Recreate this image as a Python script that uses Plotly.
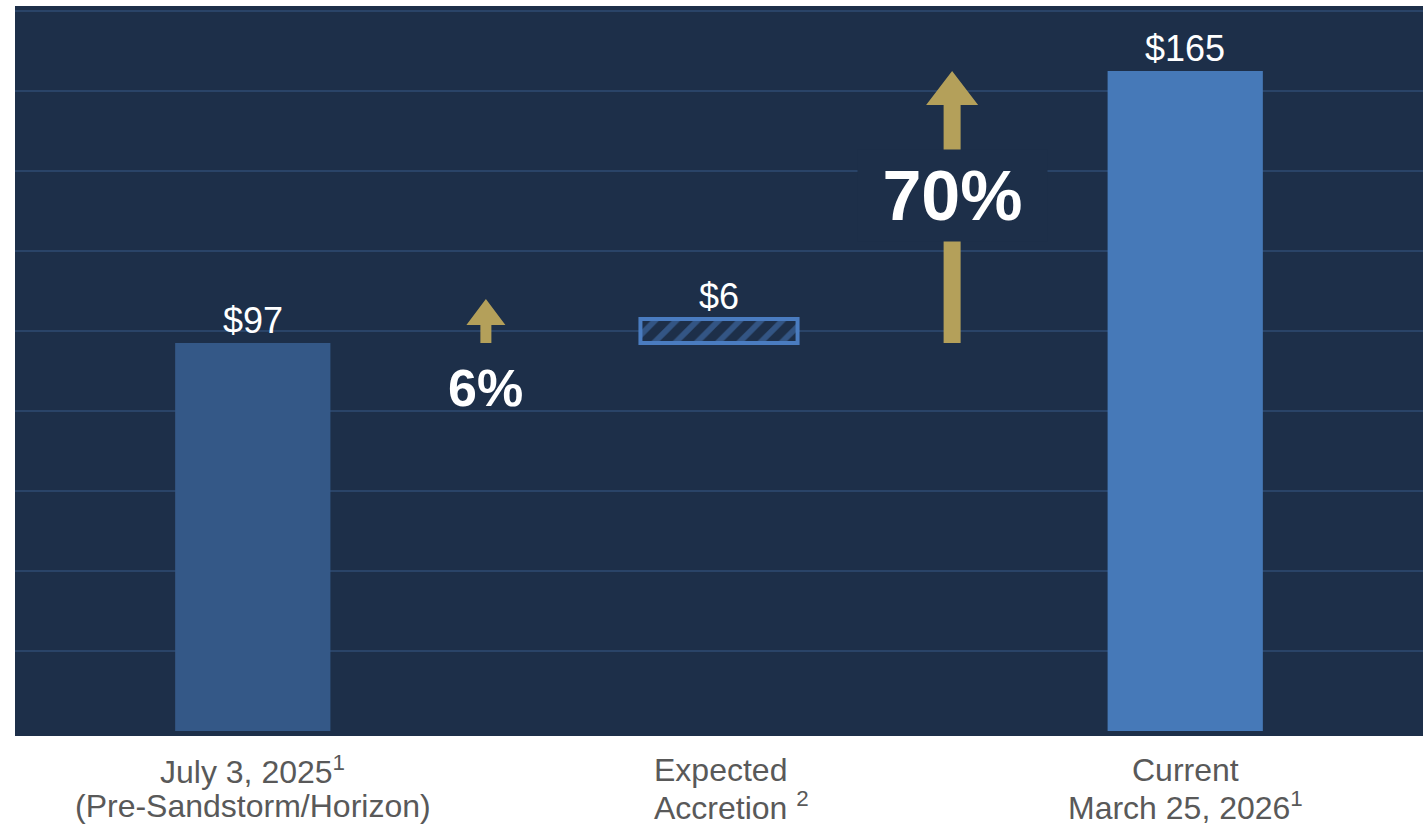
import plotly.graph_objects as go

# --- data -------------------------------------------------------------
categories = ["July 3, 2025", "Expected Accretion", "Current"]
bar_values = [97, 6, 165]          # start, accretion step, current
bar_bases = [0, 97, 0]
value_labels = ["$97", "$6", "$165"]

growth_labels = ["6%", "70%"]
growth_x = [0.5, 1.5]              # between neighbouring categories
arrow_from = [97, 97]
arrow_to = [108, 165]
growth_text_y = [85.7, 133.8]

label_lines = [
    ["July 3, 2025<sup>1</sup>", "(Pre-Sandstorm/Horizon)"],
    ["Expected", "Accretion <sup>2</sup>"],
    ["Current", "March 25, 2026<sup>1</sup>"],
]

# --- styling ----------------------------------------------------------
W, H = 1427, 824
M_L, M_R, M_T, M_B = 15, 4, 6, 88
X_RANGE = [-0.51, 2.51]
Y_RANGE = [-1.25, 181.25]
NAVY = "#1d2f49"
GRID = "#2a4468"
GOLD = "#b4a05a"
BAR_DARK = "#345887"
BAR_LIGHT = "#4679b8"
HATCH_BLUE = "#4a7cc0"
GREY = "#595959"
FONT = "Liberation Sans, Arial, sans-serif"

px_per_x = (W - M_L - M_R) / (X_RANGE[1] - X_RANGE[0])
px_per_y = (H - M_T - M_B) / (Y_RANGE[1] - Y_RANGE[0])

fig = go.Figure()

# solid bars (start and current)
fig.add_trace(go.Bar(
    x=[categories[0], categories[2]],
    y=[bar_values[0], bar_values[2]],
    base=[bar_bases[0], bar_bases[2]],
    width=0.333,
    marker=dict(color=[BAR_DARK, BAR_LIGHT], line=dict(width=0)),
    hoverinfo="skip",
))

# floating hatched accretion step
fig.add_trace(go.Bar(
    x=[categories[1]],
    y=[bar_values[1]],
    base=[bar_bases[1]],
    width=0.337,
    marker=dict(
        color=NAVY,
        line=dict(color=HATCH_BLUE, width=4),
        pattern=dict(shape="/", fgcolor=HATCH_BLUE, bgcolor=NAVY,
                     size=15, solidity=0.38),
    ),
    hoverinfo="skip",
))

annotations = []

# value labels above each bar
for cat, base, val, txt in zip(categories, bar_bases, bar_values, value_labels):
    annotations.append(dict(
        x=cat, y=base + val, xref="x", yref="y",
        text=txt, showarrow=False, yanchor="bottom", yshift=0,
        font=dict(family=FONT, size=36, color="white"),
    ))

# growth arrows as polygons in data space
arrow_dims = [  # shaft px, head width px, head length px
    (11, 39, 26),
    (17, 52, 34),
]
shapes = []
for xc, y0, y1, (sw, hw, hl) in zip(growth_x, arrow_from, arrow_to, arrow_dims):
    s = sw / 2 / px_per_x
    h = hw / 2 / px_per_x
    yh = y1 - hl / px_per_y
    path = (f"M{xc - s},{y0} L{xc + s},{y0} L{xc + s},{yh} L{xc + h},{yh} "
            f"L{xc},{y1} L{xc - h},{yh} L{xc - s},{yh} Z")
    shapes.append(dict(type="path", xref="x", yref="y", path=path,
                       fillcolor=GOLD, line=dict(width=0), layer="above"))

# growth percentages
annotations.append(dict(
    x=growth_x[0], y=growth_text_y[0], xref="x", yref="y",
    text=f"<b>{growth_labels[0]}</b>", showarrow=False, yanchor="middle",
    font=dict(family=FONT, size=52, color="white"),
))
annotations.append(dict(
    x=growth_x[1], y=growth_text_y[1], xref="x", yref="y",
    text=f"<b>{growth_labels[1]}</b>", showarrow=False, yanchor="middle",
    width=189, height=91, bgcolor=NAVY, borderpad=0,
    font=dict(family=FONT, size=70, color="white"),
))

# category labels under the plot
line_offsets = [-34, -70]
for i, (cat, lines) in enumerate(zip(categories, label_lines)):
    for line, dy in zip(lines, line_offsets):
        if i == 1:
            annotations.append(dict(
                x=cat, y=0, xref="x", yref="paper", text=line,
                showarrow=False, xanchor="left", yanchor="middle",
                xshift=-67, yshift=dy,
                font=dict(family=FONT, size=32, color=GREY),
            ))
        else:
            annotations.append(dict(
                x=cat, y=0, xref="x", yref="paper", text=line,
                showarrow=False, xanchor="center", yanchor="middle",
                yshift=dy,
                font=dict(family=FONT, size=32, color=GREY),
            ))

fig.update_layout(
    width=W, height=H, autosize=False,
    margin=dict(l=M_L, r=M_R, t=M_T, b=M_B, pad=0),
    paper_bgcolor="white",
    plot_bgcolor=NAVY,
    barmode="overlay",
    showlegend=False,
    shapes=shapes,
    annotations=annotations,
    xaxis=dict(
        type="category", categoryorder="array", categoryarray=categories,
        range=X_RANGE, showticklabels=False, showgrid=False,
        zeroline=False, showline=False, ticks="", fixedrange=True,
    ),
    yaxis=dict(
        range=Y_RANGE, tickmode="array", tickvals=list(range(20, 181, 20)),
        showticklabels=False, showgrid=True, gridcolor=GRID, gridwidth=2,
        zeroline=False, showline=False, ticks="", fixedrange=True,
    ),
)

fig.write_html("out.html", config={"displayModeBar": False})
